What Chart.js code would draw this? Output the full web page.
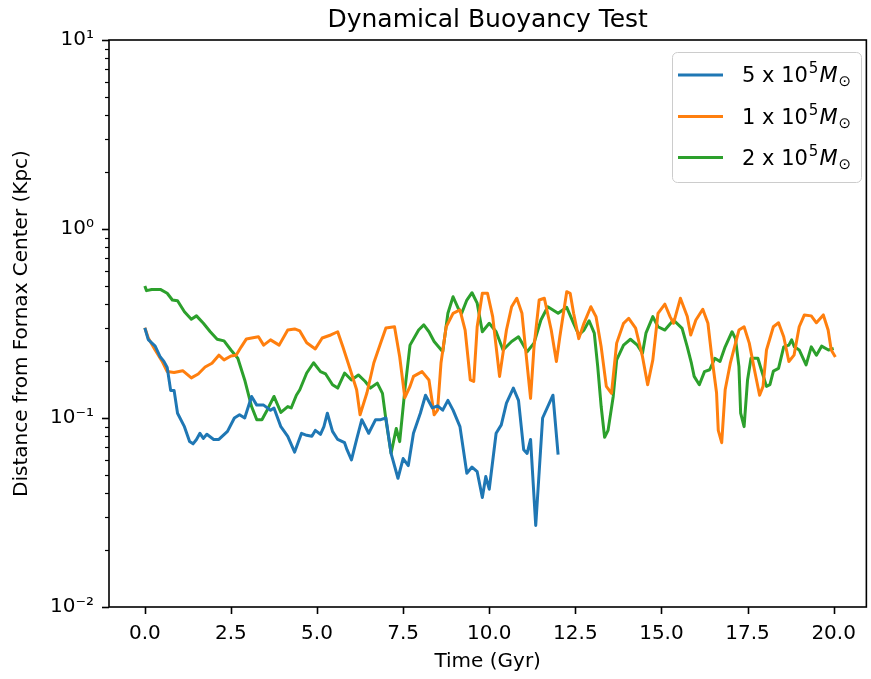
<!DOCTYPE html>
<html>
<head>
<meta charset="utf-8">
<title>Dynamical Buoyancy Test</title>
<script src="https://cdn.jsdelivr.net/npm/chart.js@4.4.1/dist/chart.umd.min.js"></script>
<style>
  body { margin: 0; background: #fff; }
  canvas { display: block; }
</style>
</head>
<body>
<canvas id="buoyancy" width="871" height="679"></canvas>
<script>
// Series (time in Gyr, distance in kpc)
const blueTime = [0, 0.1, 0.3, 0.45, 0.55, 0.65, 0.75, 0.85, 0.95, 1.15, 1.3, 1.4, 1.5, 1.6, 1.7, 1.8,
  2.0, 2.15, 2.4, 2.6, 2.75, 2.9, 3.1, 3.25, 3.45, 3.65, 3.75, 3.95, 4.15, 4.35, 4.55, 4.7, 4.85, 4.95,
  5.1, 5.2, 5.3, 5.45, 5.6, 5.8, 5.87, 6.0, 6.15, 6.3, 6.5, 6.7, 6.85, 7.0, 7.15, 7.35, 7.5, 7.65, 7.8,
  8.0, 8.15, 8.35, 8.5, 8.65, 8.8, 8.95, 9.15, 9.35, 9.5, 9.65, 9.8, 9.9, 10.0, 10.2, 10.35, 10.5, 10.7,
  10.85, 11.0, 11.1, 11.2, 11.35, 11.55, 11.85, 12.0];
const blueDist = [0.30, 0.26, 0.24, 0.21, 0.20, 0.185, 0.14, 0.14, 0.106, 0.090, 0.075, 0.073, 0.077, 0.083, 0.078, 0.082,
  0.077, 0.077, 0.085, 0.10, 0.104, 0.10, 0.13, 0.117, 0.117, 0.11, 0.113, 0.090, 0.080, 0.066, 0.083, 0.081, 0.080, 0.086,
  0.082, 0.090, 0.106, 0.085, 0.077, 0.074, 0.068, 0.060, 0.077, 0.098, 0.083, 0.098, 0.098, 0.100, 0.065, 0.048, 0.061, 0.056, 0.083,
  0.106, 0.132, 0.113, 0.116, 0.110, 0.124, 0.110, 0.090, 0.051, 0.055, 0.052, 0.038, 0.049, 0.042, 0.083, 0.092, 0.12, 0.144,
  0.124, 0.068, 0.065, 0.077, 0.027, 0.10, 0.132, 0.064];

const orangeTime = [0, 0.1, 0.3, 0.5, 0.65, 0.85, 1.1, 1.35, 1.55, 1.75,
  1.95, 2.15, 2.3, 2.5, 2.65, 2.8, 2.95, 3.1, 3.3, 3.45,
  3.65, 3.9, 4.15, 4.35, 4.5, 4.7, 4.95, 5.15, 5.4, 5.6,
  5.75, 5.95, 6.15, 6.25, 6.45, 6.65, 6.85, 7.0, 7.25, 7.4,
  7.55, 7.7, 7.8, 8.05, 8.25, 8.4, 8.5, 8.6, 8.75, 8.95,
  9.15, 9.3, 9.45, 9.55, 9.65, 9.8, 9.95, 10.1, 10.3, 10.5,
  10.65, 10.8, 10.95, 11.2, 11.3, 11.45, 11.6, 11.8, 11.95, 12.05,
  12.25, 12.35, 12.45, 12.6, 12.75, 12.95, 13.1, 13.25, 13.4, 13.55,
  13.7, 13.9, 14.05, 14.25, 14.45, 14.6, 14.75, 14.9, 15.1, 15.25,
  15.35, 15.55, 15.75, 15.85, 16.0, 16.2, 16.35, 16.45, 16.6, 16.65,
  16.75, 16.85, 17.0, 17.1, 17.25, 17.4, 17.55, 17.7, 17.85, 17.95,
  18.05, 18.25, 18.4, 18.55, 18.7, 18.85, 19.0, 19.15, 19.35, 19.5,
  19.7, 19.84, 19.93, 20.05];
const orangeDist = [0.30, 0.265, 0.229, 0.20, 0.176, 0.174, 0.178, 0.163, 0.171, 0.186,
  0.195, 0.215, 0.203, 0.213, 0.215, 0.238, 0.262, 0.265, 0.269, 0.243,
  0.259, 0.243, 0.292, 0.296, 0.289, 0.25, 0.232, 0.265, 0.275, 0.286,
  0.238, 0.184, 0.141, 0.104, 0.136, 0.196, 0.25, 0.299, 0.304, 0.211,
  0.128, 0.147, 0.166, 0.176, 0.159, 0.104, 0.110, 0.196, 0.304, 0.358,
  0.373, 0.292, 0.159, 0.156, 0.304, 0.457, 0.457, 0.344, 0.166, 0.292,
  0.388, 0.43, 0.358, 0.127, 0.238, 0.421, 0.43, 0.292, 0.199, 0.269,
  0.466, 0.457, 0.358, 0.263, 0.317, 0.388, 0.344, 0.238, 0.147, 0.135,
  0.249, 0.317, 0.337, 0.299, 0.211, 0.15, 0.203, 0.358, 0.40, 0.344,
  0.317, 0.43, 0.344, 0.275, 0.33, 0.376, 0.317, 0.22, 0.136, 0.086,
  0.074, 0.141, 0.195, 0.229, 0.292, 0.304, 0.249, 0.18, 0.132, 0.147,
  0.229, 0.304, 0.319, 0.269, 0.199, 0.215, 0.304, 0.351, 0.347, 0.319,
  0.351, 0.292, 0.229, 0.21];

const greenTime = [0, 0.05, 0.2, 0.45, 0.65, 0.8, 0.95, 1.15, 1.35, 1.5,
  1.7, 1.9, 2.1, 2.3, 2.5, 2.7, 2.9, 3.1, 3.25, 3.4,
  3.55, 3.75, 3.95, 4.15, 4.25, 4.4, 4.5, 4.7, 4.9, 5.1,
  5.25, 5.45, 5.6, 5.8, 6.0, 6.2, 6.4, 6.55, 6.75, 6.9,
  7.0, 7.15, 7.3, 7.4, 7.55, 7.7, 7.95, 8.1, 8.25, 8.4,
  8.65, 8.8, 8.95, 9.1, 9.2, 9.35, 9.5, 9.65, 9.8, 10.0,
  10.2, 10.4, 10.65, 10.85, 11.1, 11.3, 11.5, 11.7, 12.0, 12.25,
  12.45, 12.6, 12.75, 12.9, 13.05, 13.15, 13.25, 13.35, 13.45, 13.6,
  13.7, 13.9, 14.1, 14.3, 14.45, 14.55, 14.75, 14.9, 15.1, 15.35,
  15.6, 15.75, 15.87, 15.95, 16.1, 16.25, 16.4, 16.55, 16.7, 16.85,
  17.05, 17.15, 17.25, 17.3, 17.4, 17.5, 17.6, 17.8, 17.9, 18.05,
  18.15, 18.25, 18.4, 18.55, 18.7, 18.78, 18.86, 19.0, 19.2, 19.35,
  19.5, 19.65, 19.85, 20.0];
const greenDist = [0.50, 0.472, 0.479, 0.479, 0.457, 0.421, 0.417, 0.365, 0.333, 0.347,
  0.317, 0.286, 0.261, 0.256, 0.229, 0.207, 0.159, 0.115, 0.098, 0.098,
  0.110, 0.13, 0.107, 0.115, 0.113, 0.132, 0.141, 0.173, 0.196, 0.176,
  0.171, 0.15, 0.144, 0.173, 0.159, 0.169, 0.156, 0.144, 0.153, 0.135,
  0.098, 0.065, 0.088, 0.075, 0.141, 0.243, 0.292, 0.311, 0.286, 0.254,
  0.224, 0.358, 0.438, 0.38, 0.358, 0.421, 0.46, 0.405, 0.286, 0.317,
  0.286, 0.229, 0.254, 0.269, 0.224, 0.249, 0.33, 0.388, 0.358, 0.385,
  0.317, 0.275, 0.292, 0.327, 0.281, 0.187, 0.115, 0.079, 0.086, 0.13,
  0.203, 0.243, 0.261, 0.243, 0.22, 0.281, 0.344, 0.304, 0.292, 0.33,
  0.298, 0.238, 0.195, 0.166, 0.15, 0.176, 0.18, 0.207, 0.199, 0.238,
  0.286, 0.263, 0.187, 0.106, 0.09, 0.159, 0.207, 0.207, 0.18, 0.147,
  0.15, 0.177, 0.183, 0.238, 0.243, 0.259, 0.238, 0.229, 0.191, 0.238,
  0.215, 0.24, 0.229, 0.233];

// Axis ticks
const timeTicks = [0, 2.5, 5, 7.5, 10, 12.5, 15, 17.5, 20];
const distTicks = [0.01, 0.1, 1, 10];
const distTickLabels = ['10\u207B\u00B2', '10\u207B\u00B9', '10\u2070', '10\u00B9'];

// Legend: coefficient and exponent of the mass
const massCoef = ['5', '1', '2'];
const massExp = ['5', '5', '5'];
const colors = ['#1f77b4', '#ff7f0e', '#2ca02c'];

const FONT = "'DejaVu Sans', sans-serif";

function toPoints(xs, ys) {
  return xs.map((x, i) => ({ x: x, y: ys[i] }));
}

function isMajor(v) {
  const l = Math.log10(v);
  return Math.abs(l - Math.round(l)) < 1e-6;
}

// minor ticks 2..9 in each decade, like matplotlib
function logTicks() {
  const out = [];
  distTicks.forEach((d, i) => {
    out.push({ value: d });
    if (i < distTicks.length - 1) {
      for (let m = 2; m <= 9; m++) out.push({ value: d * m });
    }
  });
  return out;
}

// draws the boxed spines, tick marks, title and the legend
const mplLook = {
  id: 'mplLook',
  afterDraw(chart) {
    const ctx = chart.ctx;
    const a = chart.chartArea;
    const x = chart.scales.x;
    const y = chart.scales.y;
    ctx.save();
    ctx.strokeStyle = '#000';

    // ticks
    ctx.lineWidth = 1.6;
    x.ticks.forEach(t => {
      const px = Math.round(x.getPixelForValue(t.value)) + 0.5;
      ctx.beginPath();
      ctx.moveTo(px, a.bottom);
      ctx.lineTo(px, a.bottom + 7);
      ctx.stroke();
    });
    y.ticks.forEach(t => {
      const major = isMajor(t.value);
      const py = Math.round(y.getPixelForValue(t.value)) + 0.5;
      ctx.lineWidth = major ? 1.6 : 1.2;
      ctx.beginPath();
      ctx.moveTo(a.left, py);
      ctx.lineTo(a.left - (major ? 7 : 4), py);
      ctx.stroke();
    });

    // spines
    ctx.lineWidth = 1.6;
    ctx.strokeRect(a.left, a.top, a.right - a.left, a.bottom - a.top);

    // title
    ctx.fillStyle = '#000';
    ctx.font = '25px ' + FONT;
    ctx.textAlign = 'center';
    ctx.textBaseline = 'alphabetic';
    ctx.fillText('Dynamical Buoyancy Test', (a.left + a.right) / 2, 27);

    // legend frame
    const bx = 672.5, by = 52.5, bw = 189, bh = 130, r = 5;
    ctx.beginPath();
    ctx.moveTo(bx + r, by);
    ctx.arcTo(bx + bw, by, bx + bw, by + bh, r);
    ctx.arcTo(bx + bw, by + bh, bx, by + bh, r);
    ctx.arcTo(bx, by + bh, bx, by, r);
    ctx.arcTo(bx, by, bx + bw, by, r);
    ctx.closePath();
    ctx.fillStyle = 'rgba(255,255,255,0.8)';
    ctx.fill();
    ctx.strokeStyle = '#cccccc';
    ctx.lineWidth = 1;
    ctx.stroke();

    // legend entries
    const rows = [75, 116.5, 157.5];
    ctx.textAlign = 'left';
    chart.data.datasets.forEach((ds, i) => {
      const cy = rows[i];
      ctx.strokeStyle = ds.borderColor;
      ctx.lineWidth = 3;
      ctx.beginPath();
      ctx.moveTo(678, cy);
      ctx.lineTo(723, cy);
      ctx.stroke();

      const base = cy + 7;
      let tx = 742;
      ctx.fillStyle = '#000';
      ctx.font = '21px ' + FONT;
      const lead = massCoef[i] + ' x 10';
      ctx.fillText(lead, tx, base);
      tx += ctx.measureText(lead).width;
      ctx.font = '15px ' + FONT;
      ctx.fillText(massExp[i], tx + 1, base - 9);
      tx += ctx.measureText(massExp[i]).width + 2;
      ctx.font = 'italic 21px ' + FONT;
      ctx.fillText('M', tx, base);
      tx += ctx.measureText('M').width + 1;
      ctx.font = '15px ' + FONT;
      ctx.fillText('\u2299', tx, base + 4);
    });

    ctx.restore();
  }
};

const series = [
  { label: '5 x 10^5 Msun', xs: blueTime, ys: blueDist },
  { label: '1 x 10^5 Msun', xs: orangeTime, ys: orangeDist },
  { label: '2 x 10^5 Msun', xs: greenTime, ys: greenDist }
];

const ctx = document.getElementById('buoyancy').getContext('2d');

const chart = new Chart(ctx, {
  type: 'scatter',
  data: {
    datasets: series.map((s, i) => ({
      label: s.label,
      data: toPoints(s.xs, s.ys),
      showLine: true,
      borderColor: colors[i],
      backgroundColor: colors[i],
      borderWidth: 3,
      pointRadius: 0,
      tension: 0,
      borderJoinStyle: 'round',
      borderCapStyle: 'butt'
    }))
  },
  plugins: [mplLook],
  options: {
    responsive: false,
    animation: false,
    layout: { padding: { top: 40, right: 2, left: 0, bottom: 0 } },
    plugins: {
      legend: { display: false },
      tooltip: { enabled: false },
      title: { display: false }
    },
    scales: {
      x: {
        type: 'linear',
        min: -1.04,
        max: 20.95,
        afterBuildTicks: s => { s.ticks = timeTicks.map(v => ({ value: v })); },
        afterFit: s => { s.height = 72; },
        grid: { display: false, drawTicks: false },
        border: { display: false },
        ticks: {
          autoSkip: false,
          maxRotation: 0,
          padding: 15,
          color: '#000',
          font: { family: FONT, size: 20 },
          callback: v => v.toFixed(1)
        },
        title: {
          display: true,
          text: 'Time (Gyr)',
          color: '#000',
          font: { family: FONT, size: 20 },
          padding: { top: 0, bottom: 5 }
        }
      },
      y: {
        type: 'logarithmic',
        min: 0.01,
        max: 10,
        afterBuildTicks: s => { s.ticks = logTicks(); },
        afterFit: s => { s.width = 109; },
        grid: { display: false, drawTicks: false },
        border: { display: false },
        ticks: {
          autoSkip: false,
          padding: 15,
          color: '#000',
          font: { family: FONT, size: 20 },
          callback: v => {
            if (!isMajor(v)) return '';
            const k = distTicks.findIndex(d => Math.abs(Math.log10(d) - Math.log10(v)) < 1e-6);
            return k >= 0 ? distTickLabels[k] : '';
          }
        },
        title: {
          display: true,
          text: 'Distance from Fornax Center (Kpc)',
          color: '#000',
          font: { family: FONT, size: 20 },
          padding: { top: 10, bottom: 0 }
        }
      }
    }
  }
});
</script>
</body>
</html>
